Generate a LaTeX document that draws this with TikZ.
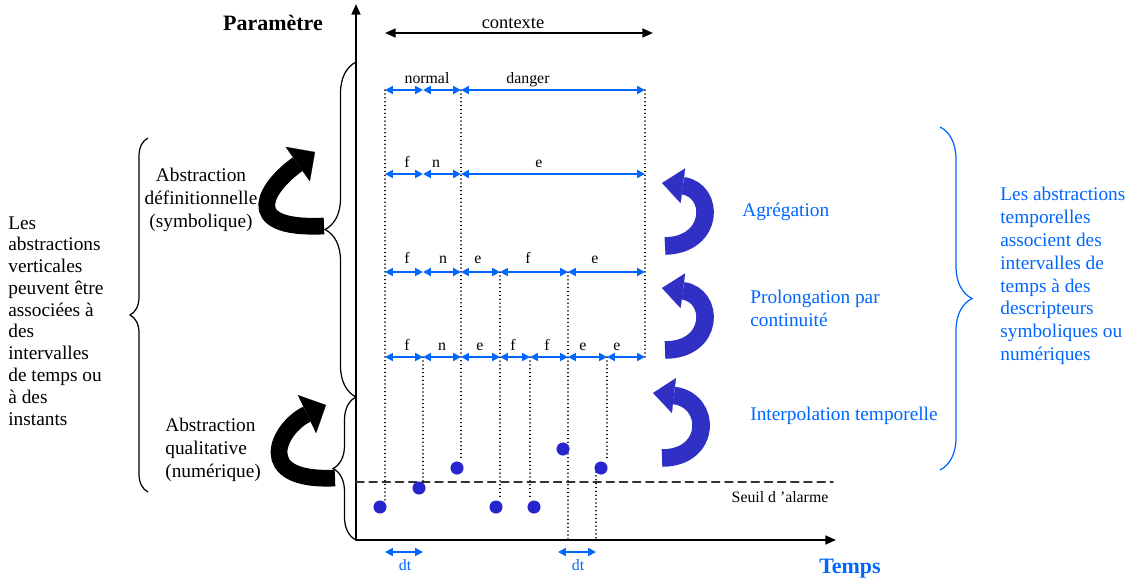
\documentclass[tikz,border=0pt]{standalone}
\usepackage{fontspec}
\setmainfont{Liberation Serif}
\usepackage{tkz-euclide}
\usetikzlibrary{arrows.meta,decorations.pathreplacing}

\definecolor{bleuint}{RGB}{0,102,255}
\definecolor{bleupt}{RGB}{38,38,205}
\definecolor{bleufl}{RGB}{48,48,196}

\tikzset{
    intervalle/.style={bleuint,line width=1.1pt,{Triangle[length=4.5pt,width=4.5pt]}-{Triangle[length=4.5pt,width=4.5pt]}},
    contexte/.style={line width=1.1pt,{Triangle[length=6pt,width=5pt]}-{Triangle[length=6pt,width=5pt]}},
    axe/.style={line width=1.1pt,-{Triangle[length=6pt,width=5pt]}},
    pointille/.style={dotted,line width=0.6pt},
    seuil/.style={dash pattern=on 4.5pt off 3pt,line width=0.9pt,black!80},
    accolade/.style={decorate,line width=0.7pt},
    flechenoire/.style={line width=9.5pt,-{Triangle[length=12pt,width=24pt,line width=0.1pt]}},
    flechebleue/.style={bleufl,line width=10pt,-{Triangle[length=12pt,width=20pt,line width=0.1pt]}},
    texte/.style={inner sep=0pt,font=\fontsize{11}{13}\selectfont},
    lettre/.style={inner sep=0pt,anchor=base,font=\fontsize{9}{10}\selectfont},
    titre/.style={inner sep=0pt,font=\fontsize{12.5}{14}\selectfont\bfseries},
}

\begin{document}
\begin{tikzpicture}[x=0.02cm,y=-0.02cm]
    \useasboundingbox (0,0) rectangle (1129,582);

    % Les axes du repère
    \tkzDefPoint(356,540){O}
    \tkzDefPoint(356,4){Y}
    \tkzDefPoint(836,540){X}
    \tkzDrawSegments[axe](O,Y O,X)
    \node[titre] (param) at (273,23) {Paramètre};
    \node[titre,bleuint] (temps) at (850,569) {Temps};

    % Le seuil d'alarme en tirets
    \tkzDefPoint(356,482){S1}
    \tkzDefPoint(833,482){S2}
    \tkzDrawSegment[seuil](S1,S2)
    \node[lettre] (tseuil) at (780,502) {Seuil d 'alarme};

    % Le contexte
    \tkzDefPoint(385,33){K1}
    \tkzDefPoint(653,33){K2}
    \tkzDrawSegment[contexte](K1,K2)
    \node[lettre,font=\fontsize{10.5}{12}\selectfont] (tcontexte) at (513,28) {contexte};

    % Première ligne : normal / danger
    \tkzDefPoint(385,90){A1} \tkzDefPoint(423,90){A2}
    \tkzDefPoint(461,90){A3} \tkzDefPoint(645,90){A4}
    \tkzDrawSegments[intervalle](A1,A2 A2,A3 A3,A4)
    \node[lettre] (lnormal) at (427,83) {normal};
    \node[lettre] (ldanger) at (528,83) {danger};

    % Deuxième ligne : f n e
    \tkzDefPoint(385,174){B1} \tkzDefPoint(423,174){B2}
    \tkzDefPoint(461,174){B3} \tkzDefPoint(645,174){B4}
    \tkzDrawSegments[intervalle](B1,B2 B2,B3 B3,B4)
    \node[lettre] (lb1) at (407,167) {f};
    \node[lettre] (lb2) at (436,167) {n};
    \node[lettre] (lb3) at (539,167) {e};

    % Troisième ligne : f n e f e
    \tkzDefPoint(385,272){C1} \tkzDefPoint(423,272){C2}
    \tkzDefPoint(461,272){C3} \tkzDefPoint(500,272){C4}
    \tkzDefPoint(568,272){C5} \tkzDefPoint(645,272){C6}
    \tkzDrawSegments[intervalle](C1,C2 C2,C3 C3,C4 C4,C5 C5,C6)
    \node[lettre] (lc1) at (407,263) {f};
    \node[lettre] (lc2) at (443,263) {n};
    \node[lettre] (lc3) at (478,263) {e};
    \node[lettre] (lc4) at (528,263) {f};
    \node[lettre] (lc5) at (595,263) {e};

    % Quatrième ligne : un intervalle par mesure
    \tkzDefPoint(385,357){D1} \tkzDefPoint(423,357){D2}
    \tkzDefPoint(461,357){D3} \tkzDefPoint(500,357){D4}
    \tkzDefPoint(530,357){D5} \tkzDefPoint(568,357){D6}
    \tkzDefPoint(607,357){D7} \tkzDefPoint(645,357){D8}
    \tkzDrawSegments[intervalle](D1,D2 D2,D3 D3,D4 D4,D5 D5,D6 D6,D7 D7,D8)
    \node[lettre] (ld1) at (407,350) {f};
    \node[lettre] (ld2) at (442,350) {n};
    \node[lettre] (ld3) at (480,350) {e};
    \node[lettre] (ld4) at (513,350) {f};
    \node[lettre] (ld5) at (547,350) {f};
    \node[lettre] (ld6) at (583,350) {e};
    \node[lettre] (ld7) at (617,350) {e};

    % Les mesures (points bleus)
    \tkzDefPoint(380,507){M1} \tkzDefPoint(419,488){M2}
    \tkzDefPoint(457,468){M3} \tkzDefPoint(496,507){M4}
    \tkzDefPoint(534,507){M5} \tkzDefPoint(563,449){M6}
    \tkzDefPoint(601,468){M7}

    % Les pointillés verticaux
    \tkzDefPoint(385,500){E1} \tkzDefPoint(423,481){E2}
    \tkzDefPoint(461,461){E3} \tkzDefPoint(500,500){E4}
    \tkzDefPoint(530,500){E5} \tkzDefPoint(568,540){E6}
    \tkzDefPoint(607,461){E7}
    \tkzDefPoint(596,468){F1} \tkzDefPoint(596,540){F2}
    \tkzDrawSegments[pointille](A1,E1 D2,E2 A3,E3 C4,E4 D5,E5 C5,E6 D7,E7 F1,F2 A4,D8)
    \tkzDrawPoints[color=bleupt,fill=bleupt,size=7](M1,M2,M3,M4,M5,M6,M7)

    % Les pas de temps dt
    \tkzDefPoint(385,552){T1} \tkzDefPoint(423,552){T2}
    \tkzDefPoint(558,552){T3} \tkzDefPoint(596,552){T4}
    \tkzDrawSegments[intervalle](T1,T2 T3,T4)
    \node[lettre,bleuint] (dt1) at (405,570) {dt};
    \node[lettre,bleuint] (dt2) at (578,570) {dt};

    % Les accolades
    \tkzDefPoint(148,492){G1} \tkzDefPoint(148,138){G2}
    \tkzDefPoint(356,397){H1} \tkzDefPoint(356,62){H2}
    \tkzDefPoint(940,127){R1} \tkzDefPoint(940,470){R2}
    \draw[accolade,decoration={brace,amplitude=0.36cm}] (G1) -- (G2);
    \draw[accolade,decoration={brace,amplitude=0.62cm}] (H1) -- (H2);
    \draw[accolade,decoration={brace,amplitude=0.46cm}] (O) -- (H1);
    \draw[accolade,bleuint,decoration={brace,amplitude=0.64cm}] (R1) -- (R2);

    % Les flèches courbes noires
    \tkzDefPoint(324,226){N1} \tkzDefPoint(315,152){N2}
    \tkzDefPoint(335,478){N3} \tkzDefPoint(326,405){N4}
    \draw[flechenoire] (N1) .. controls (236,230) and (268,185) .. (N2);
    \draw[flechenoire] (N3) .. controls (252,482) and (278,428) .. (N4);

    % Les flèches courbes bleues
    \tkzDefPoint(665,246){Q1} \tkzDefPoint(662,183){Q2}
    \tkzDefPoint(665,350){Q3} \tkzDefPoint(662,288){Q4}
    \tkzDefPoint(662,458){Q5} \tkzDefPoint(653,393){Q6}
    \draw[flechebleue] (Q1) .. controls (715,245) and (715,190) .. (Q2);
    \draw[flechebleue] (Q3) .. controls (715,350) and (715,295) .. (Q4);
    \draw[flechebleue] (Q5) .. controls (712,458) and (712,400) .. (Q6);

    % Les textes à gauche
    \node[texte,align=left,anchor=north west,font=\fontsize{11}{12.4}\selectfont] (gauche) at (8,216)
        {Les\\abstractions\\verticales\\peuvent être\\associées à\\des\\intervalles\\de temps ou\\à des\\instants};
    \node[texte,align=center,anchor=north] (absdef) at (201,168) {Abstraction\\définitionnelle\\(symbolique)};
    \node[texte,align=left,anchor=north west] (absqual) at (165,418) {Abstraction\\qualitative\\(numérique)};

    % Les textes à droite
    \node[texte,bleuint,anchor=north west] (agreg) at (742,203) {Agrégation};
    \node[texte,bleuint,align=left,anchor=north west] (prolong) at (750,290) {Prolongation par\\continuité};
    \node[texte,bleuint,anchor=north west] (interp) at (750,407) {Interpolation temporelle};
    \node[texte,bleuint,align=left,anchor=north west] (droite) at (1000,187)
        {Les abstractions\\temporelles\\associent des\\intervalles de\\temps à des\\descripteurs\\symboliques ou\\numériques};
\end{tikzpicture}
\end{document}
